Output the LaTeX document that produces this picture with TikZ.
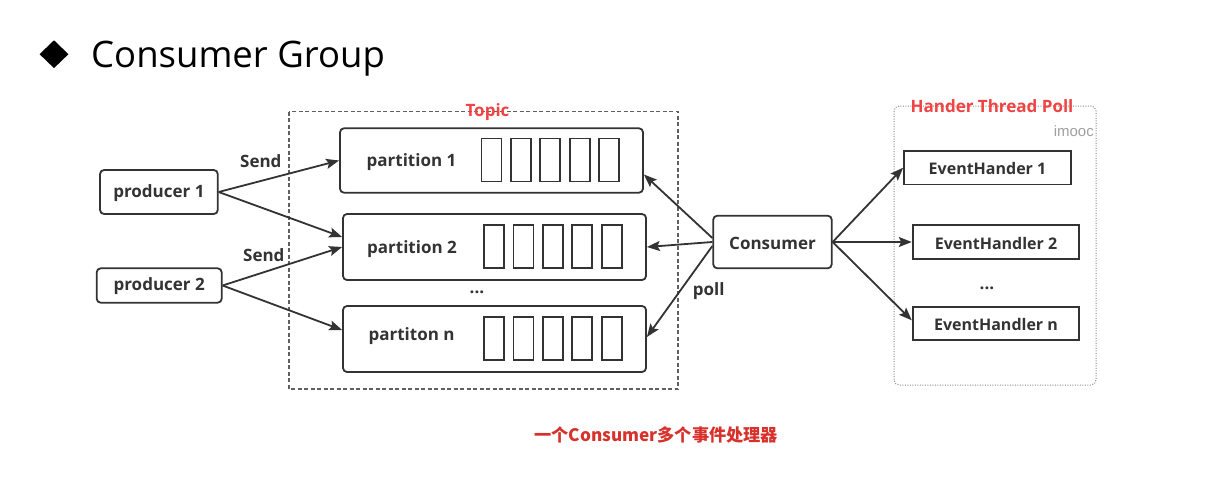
\documentclass[tikz,border=0pt]{standalone}
\usepackage{fontspec}
\setmainfont{Open Sans}
\newfontfamily\cjkfont{Noto Sans CJK SC}
\newfontfamily\arialfont{Liberation Sans}
\usetikzlibrary{arrows.meta,calc,shapes.geometric}
\definecolor{ink}{HTML}{333333}
\definecolor{lightred}{HTML}{F04343}
\definecolor{darkred}{HTML}{D8312B}
\definecolor{framegray}{HTML}{606060}
\definecolor{dotgray}{HTML}{8A8A8A}
\definecolor{wmgray}{HTML}{A0A0A0}
\begin{document}
\begin{tikzpicture}[x=1pt,y=-1pt,
  rbox/.style={draw=ink, line width=1.8pt, rounded corners=4pt, inner sep=0pt},
  sbox/.style={draw=ink, line width=1.8pt, inner sep=0pt},
  cell/.style={draw=ink, line width=1.8pt, minimum width=20pt, minimum height=43pt, inner sep=0pt},
  lbl/.style={font=\bfseries\fontsize{17}{20}\selectfont, text=ink, inner sep=0pt},
  hlbl/.style={font=\bfseries\fontsize{16}{19}\selectfont, text=ink, inner sep=0pt},
  redlbl/.style={font=\bfseries\fontsize{17}{20}\selectfont, text=lightred, inner sep=0pt},
  arr/.style={draw=ink, line width=1.8pt, -{Stealth[length=13pt,width=10pt,inset=2.5pt]}},
]
\useasboundingbox[fill=white] (0,0) rectangle (1212,482);

% title
\node[diamond, fill=black, minimum width=29pt, minimum height=28pt, inner sep=0pt] (bullet) at (54,54.2) {};
\node[anchor=base west, font=\fontsize{36.5}{44}\selectfont, inner sep=0pt] (title) at (91,67) {Consumer Group};

% group frames
\draw[framegray, line width=1.1pt, dash pattern=on 4pt off 2.5pt] (289,111.5) rectangle (678,389);
\node[redlbl] (topiclbl) at (487.5,112.5) {Topic};
\draw[dotgray, line width=1pt, dash pattern=on 1pt off 1.5pt, rounded corners=5pt] (894,106) rectangle (1096,385);
\node[redlbl] (handlbl) at (992,106.5) {Hander Thread Poll};
\node[anchor=east, font=\arialfont\fontsize{15}{18}\selectfont, text=wmgray, inner sep=0pt] (wm) at (1094,131.5) {imooc};

% producers
\node[rbox, minimum width=117.7pt, minimum height=44pt] (prod1) at (158.9,192) {};
\node[lbl] at ([yshift=-1pt]prod1.center) {producer 1};
\node[rbox, minimum width=125pt, minimum height=34.4pt] (prod2) at (159.2,285.5) {};
\node[lbl] at ([yshift=-1pt]prod2.center) {producer 2};

% partitions
\node[rbox, minimum width=303pt, minimum height=64.4pt] (p1) at (491.5,160.5) {};
\node[lbl] (p1t) at (411.5,161.7) {partition 1};
\node[rbox, minimum width=303pt, minimum height=66pt] (p2) at (494.5,247) {};
\node[lbl] (p2t) at (412,249) {partition 2};
\node[rbox, minimum width=303pt, minimum height=66pt] (pn) at (494.5,339) {};
\node[lbl] (pnt) at (411.6,336) {partiton n};
\node[lbl] (pdots) at (477,292) {...};

\foreach \k in {0,...,4} {
  \node[cell] (c1\k) at (491.5+29.4*\k,160) {};
  \node[cell] (c2\k) at (494+29.4*\k,246.7) {};
  \node[cell] (cn\k) at (494+29.4*\k,338.7) {};
}

% consumer
\node[rbox, minimum width=118.5pt, minimum height=52.6pt] (cons) at (772.5,242) {};
\node[lbl] at ([yshift=-1pt]cons.center) {Consumer};

% handlers
\node[sbox, minimum width=167pt, minimum height=33.4pt] (eh1) at (987.5,167.7) {};
\node[hlbl] at ([yshift=-1pt]eh1.center) {EventHander 1};
\node[sbox, minimum width=166.7pt, minimum height=34pt] (eh2) at (996,242) {};
\node[hlbl] at ([yshift=-1pt]eh2.center) {EventHandler 2};
\node[sbox, minimum width=166.7pt, minimum height=33.4pt] (ehn) at (996,323.3) {};
\node[hlbl] at ([yshift=-1pt]ehn.center) {EventHandler n};
\node[lbl] (hdots) at (987,288) {...};

% labels
\node[lbl] (send1) at (260.8,161.5) {Send};
\node[lbl] (send2) at (263.8,255) {Send};
\node[lbl] (poll) at (708.7,291) {poll};

% arrows
\draw[arr] (prod1.east) -- (p1.west);
\draw[arr] (prod1.east) -- ([yshift=10pt]p2.west);
\draw[arr] (prod2.east) -- (p2.west);
\draw[arr] (prod2.east) -- ([yshift=9pt]pn.west);
\draw[arr] ([yshift=4pt]cons.west) -- ([yshift=-14pt]p1.east);
\draw[arr] (cons.west) -- (p2.east);
\draw[arr] ([yshift=-4pt]cons.west) -- ([yshift=2pt]pn.east);
\draw[arr] (cons.east) -- (eh1.west);
\draw[arr] (cons.east) -- (eh2.west);
\draw[arr] (cons.east) -- ([yshift=3pt]ehn.west);

% caption
\node[font=\cjkfont\bfseries\fontsize{17.2}{21}\selectfont, text=darkred, inner sep=0pt] (caption) at (656.3,435) {一个Consumer多个事件处理器};
\end{tikzpicture}
\end{document}
